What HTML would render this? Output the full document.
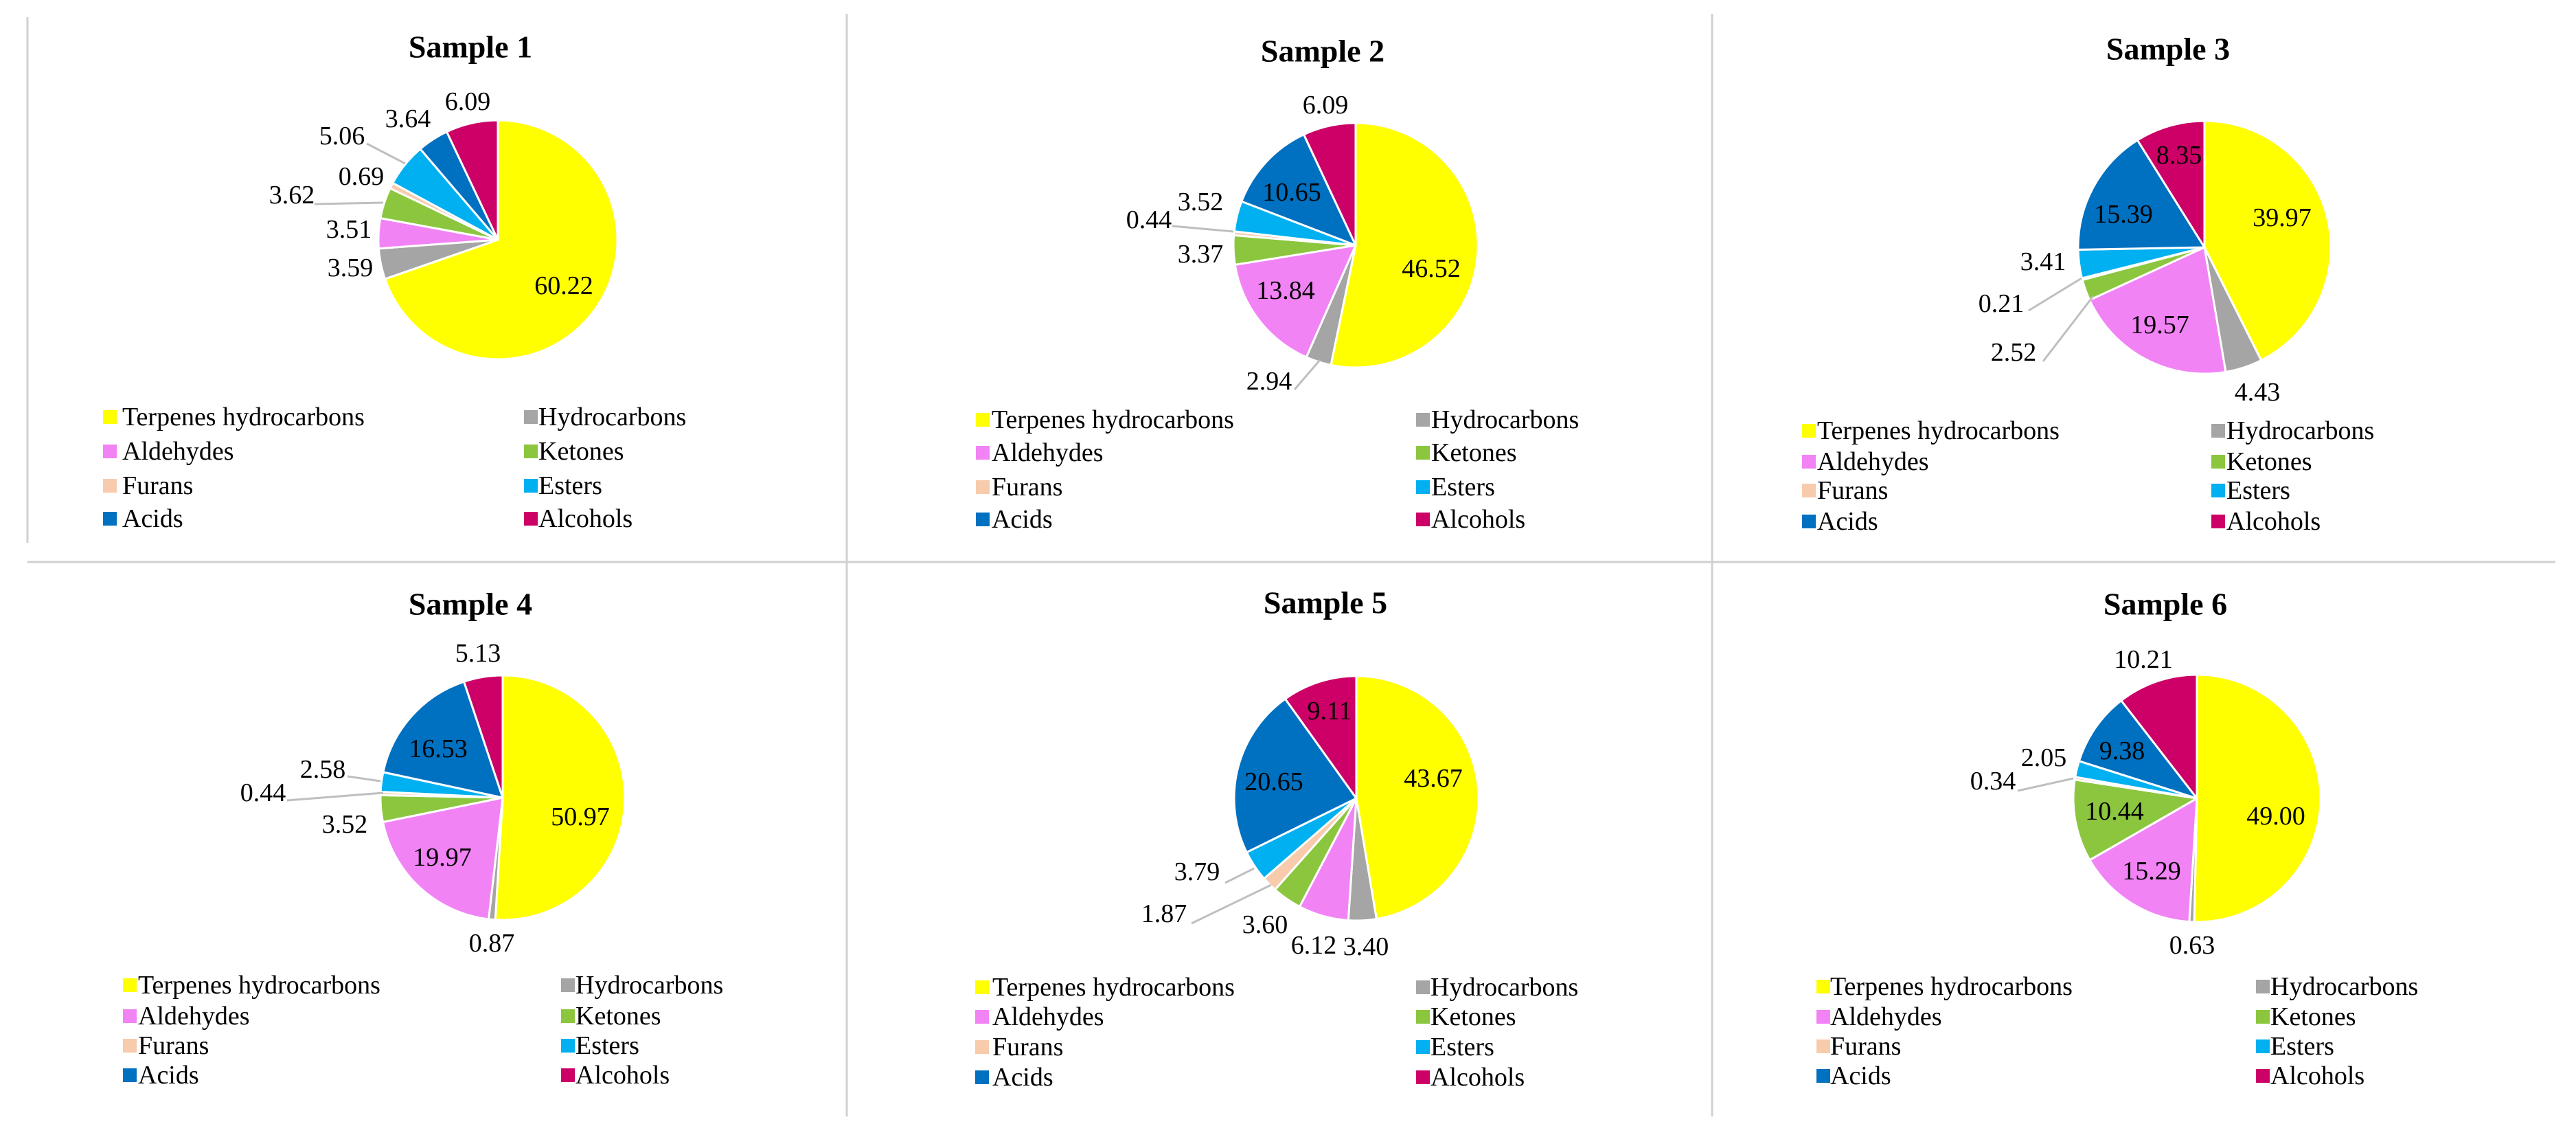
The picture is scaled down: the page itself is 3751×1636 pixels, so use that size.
<!DOCTYPE html>
<html><head><meta charset="utf-8">
<style>
html,body{margin:0;padding:0;background:#fff;}
svg{display:block;}
text{font-family:"Liberation Serif",serif;fill:#000;}
</style></head>
<body>
<svg id="chart" width="3751" height="1636" viewBox="0 0 3751 1636" xmlns="http://www.w3.org/2000/svg">
<rect x="0" y="0" width="3751" height="1636" fill="#fff"/>
<g stroke="#d0d0d0" stroke-width="3">
<line x1="40" y1="25" x2="40" y2="790"/>
<line x1="40" y1="818" x2="3721" y2="818"/>
<line x1="1233" y1="20" x2="1233" y2="1625"/>
<line x1="2493" y1="20" x2="2493" y2="1625"/>
</g>
</svg>
<script>
const categories = ["Terpenes hydrocarbons","Hydrocarbons","Aldehydes","Ketones","Furans","Esters","Acids","Alcohols"];
const sampleNames = ["Sample 1","Sample 2","Sample 3","Sample 4","Sample 5","Sample 6"];
const sample1 = [60.22,3.59,3.51,3.62,0.69,5.06,3.64,6.09];
const sample2 = [46.52,2.94,13.84,3.37,0.44,3.52,10.65,6.09];
const sample3 = [39.97,4.43,19.57,2.52,0.21,3.41,15.39,8.35];
const sample4 = [50.97,0.87,19.97,3.52,0.44,2.58,16.53,5.13];
const sample5 = [43.67,3.40,6.12,3.60,1.87,3.79,20.65,9.11];
const sample6 = [49.00,0.63,15.29,10.44,0.34,2.05,9.38,10.21];
const valueLabels1 = ["60.22","3.59","3.51","3.62","0.69","5.06","3.64","6.09"];
const valueLabels2 = ["46.52","2.94","13.84","3.37","0.44","3.52","10.65","6.09"];
const valueLabels3 = ["39.97","4.43","19.57","2.52","0.21","3.41","15.39","8.35"];
const valueLabels4 = ["50.97","0.87","19.97","3.52","0.44","2.58","16.53","5.13"];
const valueLabels5 = ["43.67","3.40","6.12","3.60","1.87","3.79","20.65","9.11"];
const valueLabels6 = ["49.00","0.63","15.29","10.44","0.34","2.05","9.38","10.21"];

const colors = ["#FFFF00","#A5A5A5","#F283F5","#8CC63F","#F8CBAD","#00B0F0","#0070C0","#CC0066"];
const series = [sample1,sample2,sample3,sample4,sample5,sample6];
const seriesLabels = [valueLabels1,valueLabels2,valueLabels3,valueLabels4,valueLabels5,valueLabels6];

// layout (pixel positions)
const layout = [
 {cx:725,cy:349,r:174,tx:685,ty:68,lx:[150,178,763,784],ly:[607,657,707,755],
  lab:[[821,416],[510,390],[508,334],[425,284],[526,257],[498,198],[594,173],[681,148]],
  lead:[[534,209,590,238],[458,297,558,295]]},
 {cx:1974,cy:357,r:178,tx:1926,ty:74,lx:[1421,1444,2062,2084],ly:[611,659,709,756],
  lab:[[2084,391],[1848,555],[1872,423],[1748,370],[1673,320],[1748,294],[1881,280],[1930,153]],
  lead:[[1707,329,1796,337],[1885,567,1922,524]]},
 {cx:3210,cy:360,r:184,tx:3157,ty:71,lx:[2624,2646,3220,3242],ly:[627,672,714,759],
  lab:[[3323,317],[3287,571],[3145,473],[2932,513],[2914,442],[2975,381],[3092,312],[3173,226]],
  lead:[[2954,452,3031,405],[2975,526,3048,431]]},
 {cx:732,cy:1161,r:178,tx:685,ty:879,lx:[179,201,817,838],ly:[1434,1479,1522,1565],
  lab:[[845,1189],[716,1373],[644,1248],[502,1200],[383,1154],[470,1120],[638,1090],[696,951]],
  lead:[[506,1130,554,1137],[418,1165,558,1154]]},
 {cx:1975,cy:1162,r:178,tx:1930,ty:877,lx:[1420,1445,2062,2083],ly:[1437,1480,1524,1568],
  lab:[[2087,1133],[1989,1378],[1913,1376],[1842,1346],[1695,1330],[1743,1269],[1855,1138],[1936,1035]],
  lead:[[1784,1285,1826,1264],[1735,1344,1851,1288]]},
 {cx:3199,cy:1162,r:180,tx:3153,ty:879,lx:[2645,2665,3285,3306],ly:[1436,1480,1523,1566],
  lab:[[3314,1188],[3192,1376],[3133,1268],[3079,1181],[2902,1137],[2976,1103],[3090,1093],[3121,960]],
  lead:[[2938,1151,3019,1133]]}
];

const NS = "http://www.w3.org/2000/svg";
const svg = document.getElementById("chart");
function mk(tag, attrs){const e=document.createElementNS(NS,tag);for(const k in attrs)e.setAttribute(k,attrs[k]);return e;}
function angleScale(cum,total){return cum/total*2*Math.PI;}
function px(cx,r,a){return cx + r*Math.sin(a);}
function py(cy,r,a){return cy - r*Math.cos(a);}

series.forEach((vals,si)=>{
  const L = layout[si];
  const g = mk("g",{});
  
  
  svg.appendChild(g);

  const title = mk("text",{x:L.tx,y:L.ty,"text-anchor":"middle","dominant-baseline":"central","font-size":"46","font-weight":"bold"});
  title.textContent = sampleNames[si];
  
  
  g.appendChild(title);

  const total = vals.reduce((a,b)=>a+b,0);
  let cum = 0;
  vals.forEach((v,ci)=>{
    const a0 = angleScale(cum,total); cum += v; const a1 = angleScale(cum,total);
    const large = (a1-a0) > Math.PI ? 1 : 0;
    const d = `M${L.cx},${L.cy} L${px(L.cx,L.r,a0)},${py(L.cy,L.r,a0)} A${L.r},${L.r} 0 ${large} 1 ${px(L.cx,L.r,a1)},${py(L.cy,L.r,a1)} Z`;
    const p = mk("path",{d:d,fill:colors[ci],stroke:"#fff","stroke-width":"3","stroke-linejoin":"round"});
    
    
    g.appendChild(p);
  });

  L.lead.forEach(s=>{
    const ln = mk("line",{x1:s[0],y1:s[1],x2:s[2],y2:s[3],stroke:"#bfbfbf","stroke-width":"3"});
    
    
    g.appendChild(ln);
  });

  seriesLabels[si].forEach((lbl,ci)=>{
    const pos = L.lab[ci];
    const t = mk("text",{x:pos[0],y:pos[1],"text-anchor":"middle","dominant-baseline":"central","font-size":"38"});
    t.textContent = lbl;
    
    
    g.appendChild(t);
  });

  categories.forEach((c,ci)=>{
    const col = ci%2, row = Math.floor(ci/2);
    const y = L.ly[row];
    const sx = col===0 ? L.lx[0] : L.lx[2];
    const tx = col===0 ? L.lx[1] : L.lx[3];
    const sq = mk("rect",{x:sx,y:y-10,width:20,height:20,fill:colors[ci]});
    
    
    g.appendChild(sq);
    const t = mk("text",{x:tx,y:y,"dominant-baseline":"central","font-size":"38"});
    t.textContent = c;
    
    
    g.appendChild(t);
  });
});
</script>
</body></html>
